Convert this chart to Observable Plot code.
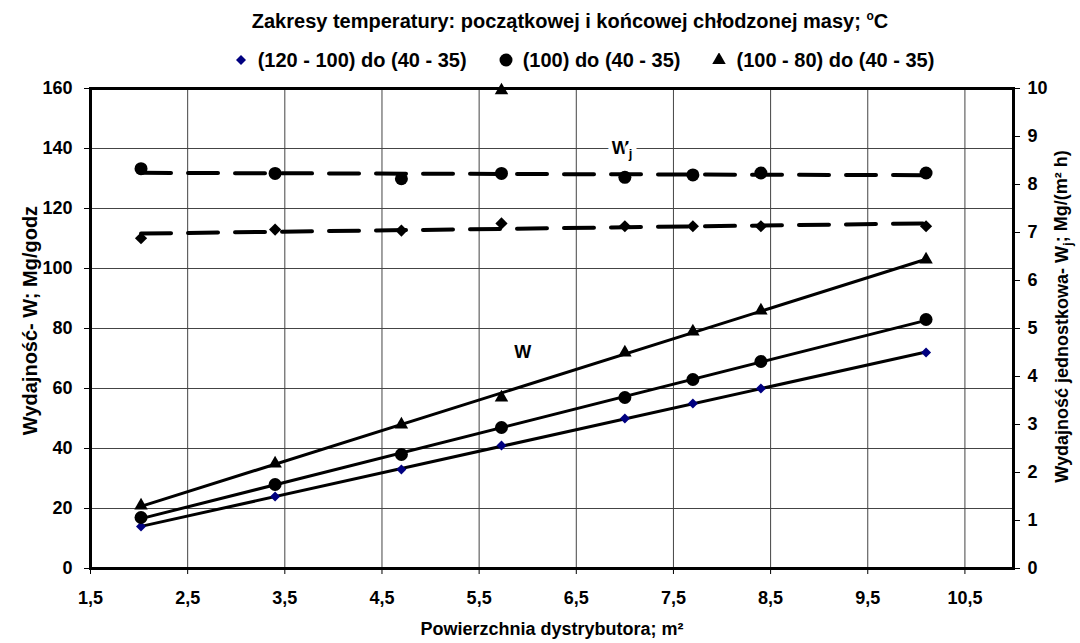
<!DOCTYPE html>
<html>
<head>
<meta charset="utf-8">
<script src="https://cdn.jsdelivr.net/npm/d3@7"></script>
<script src="https://cdn.jsdelivr.net/npm/@observablehq/plot@0.6"></script>
<style>
  body { margin: 0; background: #fff; font-family: "Liberation Sans", Arial, sans-serif; font-weight: bold; color: #000; }
  #wrap { position: relative; width: 1080px; height: 643px; overflow: hidden; }
  #title { position: absolute; top: 4px; left: 0; width: 1140px; text-align: center; font-size: 20px; line-height: 24px; }
  #title sup { font-size: 12px; }
  #legend { position: absolute; top: 47px; left: 0; width: 1168px; display: flex; justify-content: center; align-items: center; font-size: 20px; line-height: 26px; }
  .item { display: flex; align-items: center; margin: 0 16px; }
  .item svg { margin-right: 10px; }
  #chart { position: absolute; top: 76px; left: 0; }
</style>
</head>
<body>
<div id="wrap">
  <div id="title">Zakresy temperatury: początkowej i końcowej chłodzonej masy; <sup>o</sup>C</div>
  <div id="legend"></div>
  <div id="chart"></div>
</div>
<script>
// Distributor area, m²
const area = [2.02, 3.4, 4.7, 5.73, 7.0, 7.7, 8.4, 10.1];

// Throughput W, Mg/h (left axis)
const wDiamond  = [14, 24, 33, 41, 50, 55, 60, 72];
const wCircle   = [17, 28, 38, 47, 57, 63, 69, 83];
const wTriangle = [21, 35, 48, 57, 72, 79, 86, 103];

// Unit throughput Wj, Mg/(m² h) (right axis); the triangle series stays above the axis except at one area
const wjDiamond  = [6.88, 7.06, 7.04, 7.19, 7.13, 7.13, 7.13, 7.13];
const wjCircle   = [8.33, 8.23, 8.12, 8.23, 8.15, 8.20, 8.24, 8.24];
const wjTriangle = [null, null, null, 9.96, null, null, null, null];

// Series names
const seriesNames = ["(120 - 100) do (40 - 35)", "(100) do (40 - 35)", "(100 - 80) do (40 - 35)"];

// Axis ticks
const xTicks = [1.5, 2.5, 3.5, 4.5, 5.5, 6.5, 7.5, 8.5, 9.5, 10.5];
const leftTicks = [0, 20, 40, 60, 80, 100, 120, 140, 160];
const rightTicks = [0, 1, 2, 3, 4, 5, 6, 7, 8, 9, 10];

// Curve annotations (data coordinates)
const curveLabels = [
  {text: "W", x: 5.95, y: 72},
  {text: "Wj", x: 6.97, y: 140}
];

const K = 160 / 10; // right axis → left axis units

const series = [
  {name: seriesNames[0], w: wDiamond,  wj: wjDiamond,  symbol: "diamond2", fill: "#000080", wjFill: "#000", r: 4.5, rj: 5.5, trend: true},
  {name: seriesNames[1], w: wCircle,   wj: wjCircle,   symbol: "circle",   fill: "#000",    wjFill: "#000", r: 6.5, rj: 6.5, trend: true},
  {name: seriesNames[2], w: wTriangle, wj: wjTriangle, symbol: "triangle", fill: "#000",    wjFill: "#000", r: 5,   rj: 5,   trend: false}
];

const rowsW = s => area.map((x, i) => ({x, y: s.w[i], s: s.name}));
const rowsWj = s => area.map((x, i) => ({x, y: s.wj[i] == null ? null : s.wj[i] * K, s: s.name})).filter(d => d.y != null);

const allW = series.flatMap(rowsW);
const trendWj = series.filter(s => s.trend).flatMap(rowsWj);

const font = `"Liberation Sans", Arial, sans-serif`;

const chart = Plot.plot({
  width: 1080,
  height: 567,
  marginTop: 12,
  marginBottom: 75,
  marginLeft: 90,
  marginRight: 67,
  style: {fontFamily: font, fontWeight: "bold", fontSize: "18px", color: "#000", background: "#fff"},
  x: {domain: [1.5, 11]},
  y: {domain: [0, 160]},
  marks: [
    Plot.gridY(leftTicks, {stroke: "#444", strokeOpacity: 1, strokeWidth: 1}),
    Plot.gridX(xTicks, {stroke: "#444", strokeOpacity: 1, strokeWidth: 1}),
    Plot.frame({stroke: "#000", strokeWidth: 3}),
    Plot.axisX(xTicks, {tickFormat: d => String(d).replace(".", ","), tickSize: 6, tickPadding: 17, label: null, fontSize: 18}),
    Plot.axisY(leftTicks, {anchor: "left", tickSize: 6, tickPadding: 12, label: null, fontSize: 18}),
    Plot.axisY(rightTicks.map(v => v * K), {anchor: "right", tickFormat: d => d / K, tickSize: 6, tickPadding: 8, label: null, fontSize: 18}),
    // W trend lines
    Plot.linearRegressionY(allW, {x: "x", y: "y", z: "s", ci: 0, stroke: "#000", strokeWidth: 3}),
    // Wj trend lines
    Plot.linearRegressionY(trendWj, {x: "x", y: "y", z: "s", ci: 0, stroke: "#000", strokeWidth: 4, strokeDasharray: "30,17"}),
    ...series.map(s => Plot.dot(rowsW(s), {x: "x", y: "y", symbol: s.symbol, fill: s.fill, stroke: "none", r: s.r})),
    ...series.map(s => Plot.dot(rowsWj(s), {x: "x", y: "y", symbol: s.symbol, fill: s.wjFill, stroke: "none", r: s.rj})),
    Plot.text(curveLabels, {x: "x", y: "y", text: "text", fontSize: 18, fontWeight: "bold", fill: "#000", stroke: "#fff", strokeWidth: 10, paintOrder: "stroke"}),
    // Axis titles
    Plot.text(["Powierzchnia dystrybutora; m²"], {frameAnchor: "bottom", textAnchor: "middle", dy: 66, fontSize: 18, fontWeight: "bold"}),
    Plot.text(["Wydajność- W; Mg/godz"], {frameAnchor: "left", textAnchor: "middle", dx: -60, dy: -8, rotate: -90, fontSize: 20, fontWeight: "bold"}),
    Plot.text(["Wydajność jednostkowa- Wj; Mg/(m² h)"], {frameAnchor: "right", textAnchor: "middle", dx: 49, dy: -12, rotate: -90, fontSize: 18, fontWeight: "bold"})
  ]
});

// Render the "j" of Wj as a subscript
d3.select(chart).selectAll("text").each(function () {
  const t = this.textContent;
  if (!t.includes("Wj")) return;
  const parts = t.split("Wj");
  const el = d3.select(this);
  el.text(null);
  parts.forEach((p, i) => {
    if (i > 0) {
      el.append("tspan").text("W");
      el.append("tspan").attr("dy", "0.3em").attr("font-size", "0.72em").text("j");
      if (p) el.append("tspan").attr("dy", "-0.3em").text(p);
    } else if (p) {
      el.append("tspan").text(p);
    }
  });
});

document.getElementById("chart").appendChild(chart);

// Legend
const legend = d3.select("#legend");
series.forEach(s => {
  const item = legend.append("div").attr("class", "item");
  const svg = item.append("svg").attr("width", 14).attr("height", 14).attr("viewBox", "-7 -7 14 14");
  const sym = {diamond2: d3.symbolDiamond2, circle: d3.symbolCircle, triangle: d3.symbolTriangle}[s.symbol];
  svg.append("path").attr("d", d3.symbol(sym, Math.PI * s.r * s.r)()).attr("fill", s.fill);
  item.append("span").text(s.name);
});
</script>
</body>
</html>
